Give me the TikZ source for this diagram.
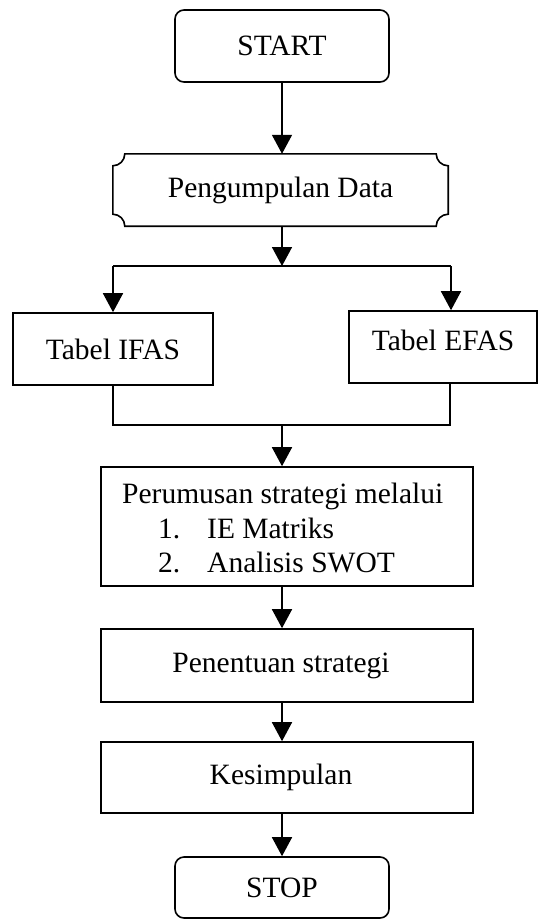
\documentclass[tikz,border=0pt]{standalone}
\usepackage{fontspec}
\setmainfont{Liberation Serif}
\usetikzlibrary{arrows.meta,calc}
\begin{document}
\begin{tikzpicture}[x=1pt,y=1pt,
  every node/.style={font=\fontsize{29.5}{35}\selectfont},
  box/.style={draw,line width=1.6pt,inner sep=0pt},
  term/.style={box,rounded corners=9pt},
  txt/.style={inner sep=0pt},
  conn/.style={line width=1.6pt},
  arr/.style={conn,-{Triangle[length=19pt,width=20pt]}}]
\useasboundingbox (0,0) rectangle (539,-924);
\node[term,minimum width=214pt,minimum height=72pt] (start) at (282,-46) {START};
\node[txt,minimum width=335pt,minimum height=72pt] (peng) at (280.5,-190) {Pengumpulan Data};
\draw[line width=1.6pt]
  ($(peng.north west)+(12,0)$) -- ($(peng.north east)+(-12,0)$)
  arc[start angle=180,end angle=270,radius=12pt]
  -- ($(peng.south east)+(0,12)$)
  arc[start angle=90,end angle=180,radius=12pt]
  -- ($(peng.south west)+(12,0)$)
  arc[start angle=0,end angle=90,radius=12pt]
  -- ($(peng.north west)+(0,-12)$)
  arc[start angle=270,end angle=360,radius=12pt] -- cycle;
\node[box,minimum width=200pt,minimum height=72pt] (ifas) at (113,-349) {Tabel IFAS};
\node[box,minimum width=188pt,minimum height=72pt] (efas) at (443,-347) {};
\node[txt] (efast) at (443,-340) {Tabel EFAS};
\node[box,minimum width=372pt,minimum height=119pt] (per) at (287,-526.5) {};
\node[txt,anchor=base west] (l1) at (122,-503) {Perumusan strategi melalui};
\node[txt,anchor=base west] (n1) at (158,-538) {1.};
\node[txt,anchor=base west] (i1) at (207,-538) {IE Matriks};
\node[txt,anchor=base west] (n2) at (158,-572) {2.};
\node[txt,anchor=base west] (i2) at (207,-572) {Analisis SWOT};
\node[box,minimum width=372pt,minimum height=73pt] (pen) at (287,-665.5) {};
\node[txt] (pent) at (281,-665.5) {Penentuan strategi};
\node[box,minimum width=372pt,minimum height=71pt] (kes) at (287,-777.5) {};
\node[txt] (kest) at (281,-777.5) {Kesimpulan};
\node[term,minimum width=214pt,minimum height=61pt] (stop) at (282,-887.5) {STOP};
\coordinate (sp) at (282,-266);
\coordinate (spL) at (113,-266);
\coordinate (spR) at (451,-266);
\coordinate (mg) at (282,-425);
\coordinate (mgL) at (113,-425);
\coordinate (mgR) at (450,-425);
\draw[arr] (start.south) -- (start.south |- peng.north);
\draw[arr] (sp |- peng.south) -- (sp);
\draw[conn] (spL) -- (spR);
\draw[arr] (spL) -- (ifas.north);
\draw[arr] (spR) -- (spR |- efas.north);
\draw[conn] (ifas.south) -- (mgL) -- (mgR) -- (mgR |- efas.south);
\draw[arr] (mg) -- (mg |- per.north);
\draw[arr] (mg |- per.south) -- (mg |- pen.north);
\draw[arr] (mg |- pen.south) -- (mg |- kes.north);
\draw[arr] (mg |- kes.south) -- (stop.north);
\end{tikzpicture}
\end{document}
